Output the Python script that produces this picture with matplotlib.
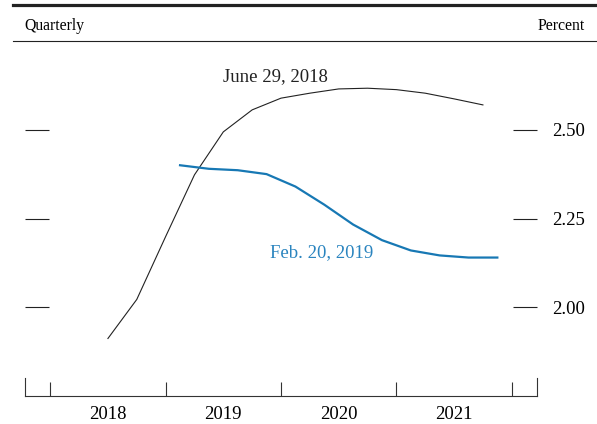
import matplotlib.pyplot as plt
from matplotlib.lines import Line2D

plt.rcParams['font.family'] = ['Liberation Serif', 'DejaVu Serif']

# quarter index: 0 = start of 2018
q_june = [2, 3, 4, 5, 6, 7, 8, 9, 10, 11, 12, 13, 14, 15]
v_june = [1.912, 2.022, 2.199, 2.373, 2.494, 2.556, 2.589, 2.603, 2.615,
          2.617, 2.613, 2.603, 2.587, 2.570]

q_feb = [4.5, 5.5, 6.5, 7.5, 8.5, 9.5, 10.5, 11.5, 12.5, 13.5, 14.5, 15.5]
v_feb = [2.400, 2.390, 2.386, 2.375, 2.340, 2.289, 2.233, 2.189, 2.160,
         2.146, 2.140, 2.140]

years = ['2018', '2019', '2020', '2021']
year_bounds = [0, 4, 8, 12, 16]
year_mid = [2, 6, 10, 14]
yticks = [2.00, 2.25, 2.50]
ytick_labels = ['2.00', '2.25', '2.50']

blue = '#1778b4'
W, H = 597, 424
fig = plt.figure(figsize=(W / 100, H / 100), dpi=100)
ax = fig.add_axes([25 / W, 1 - 396 / H, (537 - 25) / W, (396 - 41) / H])

ax.plot(q_june, v_june, color='#222222', lw=0.8)
ax.plot(q_feb, v_feb, color=blue, lw=1.6)

ax.text(7.8, 2.650, 'June 29, 2018', ha='center', va='center', fontsize=13.5, color='#222222')
ax.text(9.42, 2.153, 'Feb. 20, 2019', ha='center', va='center', fontsize=13.5, color='#2a84bf')

ax.set_xlim(-0.875, 16.875)
ax.set_ylim(1.75, 2.75)

for s in ['top']:
    ax.spines[s].set_visible(False)
ax.spines['left'].set_bounds(1.75, 1.80)
ax.spines['right'].set_bounds(1.75, 1.80)
for s in ['left', 'right', 'bottom']:
    ax.spines[s].set_linewidth(0.8)
    ax.spines[s].set_color('#333333')

ax.set_xticks(year_bounds)
ax.set_xticklabels([])
ax.tick_params(axis='x', which='major', direction='in', length=10, width=0.8, color='#333333')
ax.set_xticks(year_mid, minor=True)
ax.set_xticklabels(years, minor=True, fontsize=13.5)
ax.tick_params(axis='x', which='minor', length=0, pad=7)

ax.set_yticks(yticks)
ax.set_yticklabels(ytick_labels, fontsize=13.5)
ax.tick_params(axis='y', direction='in', length=17, width=0.8, color='#222222',
               left=True, right=True, labelleft=False, labelright=True, pad=11)

# header rules and labels
fig.add_artist(Line2D([12.7 / W, 1], [1 - 5 / H, 1 - 5 / H], color='#222222', lw=2.3))
fig.add_artist(Line2D([12.7 / W, 1], [1 - 41 / H, 1 - 41 / H], color='#222222', lw=0.8))
fig.text(24.3 / W, 1 - 26 / H, 'Quarterly', ha='left', va='center', fontsize=11.3)
fig.text(585 / W, 1 - 26 / H, 'Percent', ha='right', va='center', fontsize=11.3)

fig.savefig('out.png', dpi=100)
